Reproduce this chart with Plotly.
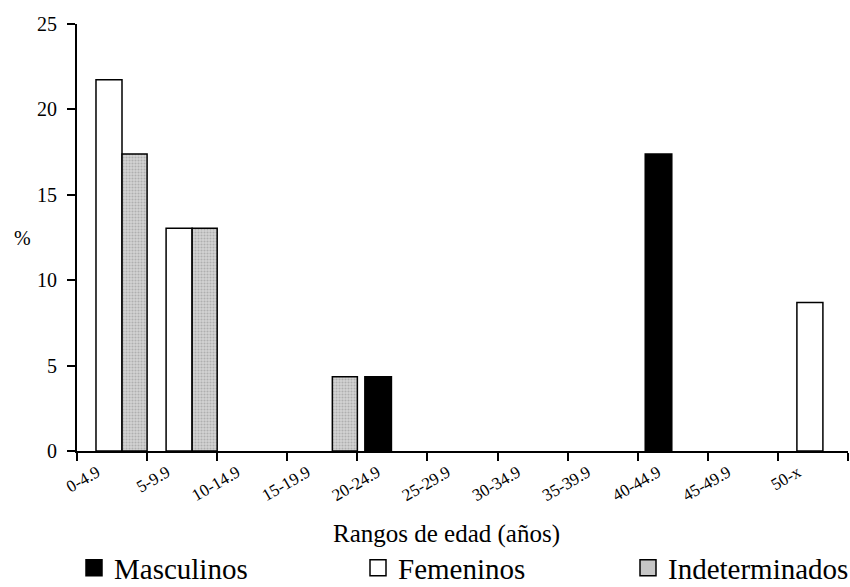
import plotly.graph_objects as go

categories = ["0-4.9", "5-9.9", "10-14.9", "15-19.9", "20-24.9", "25-29.9",
              "30-34.9", "35-39.9", "40-44.9", "45-49.9", "50-x"]
masculinos = [None, None, None, None, 4.35, None, None, None, 17.39, None, None]
femeninos = [21.74, 13.04, None, None, None, None, None, None, None, None, 8.70]
indeterminados = [17.39, 13.04, None, 4.35, None, None, None, None, None, None, None]
y_ticks = [0, 5, 10, 15, 20, 25]
series_names = ["Masculinos", "Femeninos", "Indeterminados"]

SERIF = "Liberation Serif, DejaVu Serif, serif"
GRAY = "#c6c6c6"

fig = go.Figure()
fig.add_trace(go.Bar(
    x=categories, y=masculinos, name=series_names[0],
    offset=-0.393, width=0.379, showlegend=False,
    marker=dict(color="black", line=dict(color="black", width=1.5)),
))
fig.add_trace(go.Bar(
    x=categories, y=femeninos, name=series_names[1],
    offset=-0.229, width=0.371, showlegend=False,
    marker=dict(color="white", line=dict(color="black", width=1.5)),
))
fig.add_trace(go.Bar(
    x=categories, y=indeterminados, name=series_names[2],
    offset=0.143, width=0.357, showlegend=False,
    marker=dict(color=GRAY, line=dict(color="black", width=1.5),
                pattern=dict(shape=".", bgcolor="#d4d4d4", fgcolor="#8a8a8a",
                             size=3, solidity=0.4)),
))

# legend entries (no data points, only legend symbols)
legend_fills = ["black", "white", GRAY]
legend_ids = ["legend", "legend2", "legend3"]
for name, fill, lid in zip(series_names, legend_fills, legend_ids):
    fig.add_trace(go.Scatter(
        x=[None], y=[None], mode="markers", name=name, legend=lid,
        showlegend=True,
        marker=dict(symbol="square", size=16, color=fill,
                    line=dict(color="black", width=1.5)),
    ))

legend_common = dict(orientation="h", yanchor="middle", xanchor="left",
                     font=dict(family=SERIF, size=29, color="black"),
                     bgcolor="rgba(0,0,0,0)", borderwidth=0,
                     itemclick=False, itemdoubleclick=False)

plot_w = 850 - 77 - 2
plot_h = 587 - 24 - 136


def px_x(p):
    return (p - 77) / plot_w


def px_y(p):
    return (451 - p) / plot_h


fig.update_layout(
    width=850, height=587,
    margin=dict(l=77, r=2, t=24, b=136, autoexpand=False),
    paper_bgcolor="white", plot_bgcolor="white",
    barmode="overlay",
    showlegend=True,
    font=dict(family=SERIF, color="black"),
    xaxis=dict(
        type="category", categoryorder="array", categoryarray=categories,
        showline=True, linecolor="black", linewidth=2,
        ticks="outside", tickson="boundaries", ticklen=8, tickwidth=2,
        tickcolor="black", tickangle=-30, ticklabelshift=-15,
        ticklabelstandoff=3,
        tickfont=dict(family=SERIF, size=17, color="black"),
        showgrid=False, zeroline=False, automargin=False,
        range=[-0.5, 10.5],
    ),
    yaxis=dict(
        range=[0, 25], tickvals=y_ticks,
        showline=True, linecolor="black", linewidth=2,
        ticks="outside", ticklen=8, tickwidth=2, tickcolor="black",
        tickfont=dict(family=SERIF, size=20, color="black"),
        ticklabelstandoff=6,
        showgrid=False, zeroline=False, automargin=False,
    ),
    legend=dict(x=px_x(74), y=px_y(568), **legend_common),
    legend2=dict(x=px_x(358), y=px_y(568), **legend_common),
    legend3=dict(x=px_x(628), y=px_y(568), **legend_common),
    annotations=[
        dict(text="%", x=px_x(22), y=px_y(238), xref="paper", yref="paper",
             xanchor="center", yanchor="middle",
             showarrow=False, font=dict(family=SERIF, size=20, color="black")),
        dict(text="Rangos de edad (años)", x=px_x(446), y=px_y(534),
             xref="paper", yref="paper", xanchor="center", yanchor="middle",
             showarrow=False,
             font=dict(family=SERIF, size=25, color="black")),
    ],
)

fig.write_html("out.html",
               config={"displayModeBar": False},
               post_script="document.body.style.margin='0';"
                           "document.body.style.padding='0';")
